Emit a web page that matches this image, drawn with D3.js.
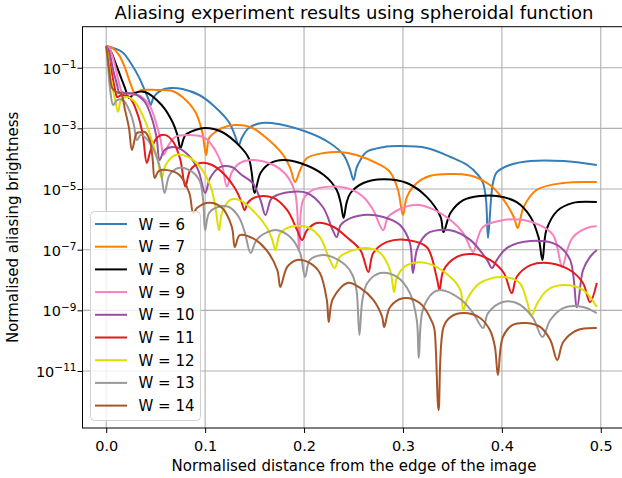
<!DOCTYPE html>
<html>
<head>
<meta charset="utf-8">
<script src="https://cdn.jsdelivr.net/npm/d3@7"></script>
<style>
body { margin: 0; background: #fff; }
svg text { font-family: "DejaVu Sans", sans-serif; fill: #000; }
</style>
</head>
<body>
<div id="chart"></div>
<script>
// values: [distance, brightness]
var w6 = [[0,0.52],[0.016,0.33],[0.026,0.123],[0.033,0.049],[0.038,0.0214],[0.043,8.6e-3],[0.045,5.9e-3],[0.048,0.0108],[0.056,0.0184],[0.065,0.0214],[0.077,0.0199],[0.094,0.0126],[0.110,5.1e-3],[0.124,1.62e-3],[0.130,6.0e-4],[0.134,2.8e-4],[0.137,4.8e-4],[0.144,1.03e-3],[0.157,1.5e-3],[0.167,1.5e-3],[0.203,7.6e-4],[0.226,3.3e-4],[0.240,1.32e-4],[0.246,4.9e-5],[0.250,2.0e-5],[0.253,4.9e-5],[0.257,9.1e-5],[0.263,1.66e-4],[0.280,2.4e-4],[0.297,2.6e-4],[0.324,2.25e-4],[0.348,1.14e-4],[0.365,6.2e-5],[0.376,2.9e-5],[0.381,1.58e-5],[0.384,4.3e-6],[0.386,2.4e-7],[0.389,4.3e-6],[0.391,1.58e-5],[0.395,3.6e-5],[0.408,6.2e-5],[0.429,8.4e-5],[0.462,8.4e-5],[0.496,6.2e-5]];
var w7 = [[0,0.52],[0.006,0.45],[0.013,0.26],[0.019,0.098],[0.025,0.027],[0.029,0.0147],[0.036,0.0184],[0.050,0.0184],[0.067,0.017],[0.077,0.0108],[0.090,3.5e-3],[0.097,7.6e-4],[0.101,1.32e-4],[0.104,4.8e-4],[0.110,7.4e-4],[0.117,1.03e-3],[0.130,1.29e-3],[0.146,1.1e-3],[0.162,4.8e-4],[0.179,1.32e-4],[0.186,4.9e-5],[0.191,1.7e-5],[0.196,4.2e-5],[0.203,1.05e-4],[0.220,1.54e-4],[0.236,1.66e-4],[0.253,1.32e-4],[0.277,6.2e-5],[0.287,3.6e-5],[0.295,9.3e-6],[0.300,1.39e-6],[0.304,5.5e-6],[0.314,1.58e-5],[0.327,2.7e-5],[0.354,3.1e-5],[0.373,2.5e-5],[0.388,1.36e-5],[0.402,4.3e-6],[0.412,1.2e-6],[0.416,5.2e-7],[0.422,2.55e-6],[0.435,9.3e-6],[0.462,1.58e-5],[0.496,1.7e-5]];
var w8 = [[0,0.52],[0.004,0.38],[0.009,0.154],[0.014,0.057],[0.019,0.0214],[0.023,0.01],[0.029,0.0147],[0.039,0.0158],[0.056,5.9e-3],[0.067,1.62e-3],[0.072,6.0e-4],[0.075,2.25e-4],[0.080,6.0e-4],[0.090,8.8e-4],[0.100,1.03e-3],[0.117,7.6e-4],[0.134,2.8e-4],[0.144,1.05e-4],[0.147,3.6e-5],[0.150,7.4e-6],[0.156,3.4e-5],[0.166,7.2e-5],[0.179,9.1e-5],[0.196,7.2e-5],[0.220,2.9e-5],[0.233,9.3e-6],[0.237,3.5e-6],[0.240,1.11e-6],[0.243,3.5e-6],[0.247,7.4e-6],[0.260,1.58e-5],[0.280,2.1e-5],[0.304,1.58e-5],[0.324,5.5e-6],[0.338,1.2e-6],[0.341,3.8e-7],[0.348,1.62e-6],[0.361,4.3e-6],[0.378,5.9e-6],[0.395,5.9e-6],[0.415,3.7e-6],[0.429,1.2e-6],[0.437,2.6e-7],[0.441,4.6e-8],[0.445,4.4e-7],[0.456,1.9e-6],[0.472,3.5e-6],[0.496,3.7e-6]];
var w9 = [[0,0.52],[0.003,0.45],[0.008,0.154],[0.011,0.057],[0.014,0.023],[0.016,0.0158],[0.022,0.0136],[0.034,0.0117],[0.044,5.5e-3],[0.051,1.29e-3],[0.055,4.1e-4],[0.058,1.32e-4],[0.063,2.8e-4],[0.070,5.2e-4],[0.083,6.0e-4],[0.100,4.8e-4],[0.110,1.94e-4],[0.117,6.2e-5],[0.122,1.2e-5],[0.127,3.6e-5],[0.135,7.2e-5],[0.148,9.1e-5],[0.169,6.2e-5],[0.182,2.9e-5],[0.191,7.4e-6],[0.195,9.7e-8],[0.199,4.3e-6],[0.209,9.3e-6],[0.226,1.2e-5],[0.243,1.08e-5],[0.260,5.5e-6],[0.270,2.0e-6],[0.280,4.4e-7],[0.285,1.2e-6],[0.297,2.2e-6],[0.312,3.0e-6],[0.327,2.4e-6],[0.348,9.5e-7],[0.361,3.5e-7],[0.371,8.4e-8],[0.375,2.1e-7],[0.381,5.6e-7],[0.402,9.5e-7],[0.422,9.5e-7],[0.438,6.5e-7],[0.452,3.0e-7],[0.461,2.7e-8],[0.466,9.7e-8],[0.472,2.6e-7],[0.486,5.2e-7],[0.496,5.9e-7]];
var w10 = [[0,0.52],[0.003,0.33],[0.007,0.084],[0.011,0.027],[0.013,0.0158],[0.019,0.0147],[0.029,0.0136],[0.039,7.4e-3],[0.046,2.2e-3],[0.051,4.8e-4],[0.054,9.1e-5],[0.059,1.94e-4],[0.070,2.4e-4],[0.083,1.32e-4],[0.093,4.2e-5],[0.100,7.4e-6],[0.105,2.3e-5],[0.115,5.3e-5],[0.127,5.3e-5],[0.137,2.9e-5],[0.148,1.58e-5],[0.156,4.3e-6],[0.161,1.39e-6],[0.166,4.3e-6],[0.169,5.5e-6],[0.186,8.0e-6],[0.203,7.4e-6],[0.219,2.55e-6],[0.229,4.4e-7],[0.233,2.6e-7],[0.237,6.5e-7],[0.243,9.5e-7],[0.260,1.39e-6],[0.280,1.2e-6],[0.297,6.5e-7],[0.307,1.66e-7],[0.310,1.7e-8],[0.314,9.7e-8],[0.320,2.4e-7],[0.327,3.8e-7],[0.348,4.4e-7],[0.368,2.1e-7],[0.385,4.6e-8],[0.390,2.5e-8],[0.395,4.6e-8],[0.405,1.13e-7],[0.429,1.93e-7],[0.456,1.42e-7],[0.469,4.6e-8],[0.476,1.27e-9],[0.482,2.1e-8],[0.489,5.7e-8],[0.496,9.7e-8]];
var w11 = [[0,0.52],[0.002,0.26],[0.006,0.057],[0.009,0.0184],[0.011,0.0108],[0.016,0.0126],[0.024,0.01],[0.032,2.75e-3],[0.037,6.0e-4],[0.041,7.2e-5],[0.045,1.94e-4],[0.052,5.2e-4],[0.060,6.0e-4],[0.068,3.5e-4],[0.075,9.1e-5],[0.080,1.2e-5],[0.085,4.2e-5],[0.095,7.2e-5],[0.107,6.2e-5],[0.120,2.9e-5],[0.130,1.08e-5],[0.136,4.3e-6],[0.140,2.0e-6],[0.143,3.5e-6],[0.152,5.5e-6],[0.169,5.1e-6],[0.183,2.0e-6],[0.193,4.4e-7],[0.198,2.1e-7],[0.203,4.4e-7],[0.213,7.6e-7],[0.230,5.6e-7],[0.243,2.6e-7],[0.257,9.7e-8],[0.265,1.84e-8],[0.270,7.8e-8],[0.284,1.8e-7],[0.304,2.1e-7],[0.324,1.22e-7],[0.334,1.26e-8],[0.337,4.7e-9],[0.341,2.1e-8],[0.354,5.7e-8],[0.371,7.2e-8],[0.388,4.6e-8],[0.402,1.7e-8],[0.410,3.7e-9],[0.415,1.26e-8],[0.429,3.1e-8],[0.449,3.6e-8],[0.469,2.1e-8],[0.482,8.0e-9],[0.489,1.88e-9],[0.496,8.0e-9]];
var w12 = [[0,0.52],[0.002,0.21],[0.005,0.039],[0.009,8.6e-3],[0.012,3.5e-3],[0.015,8.6e-3],[0.021,0.0108],[0.029,7.4e-3],[0.039,1.88e-3],[0.046,4.1e-4],[0.052,9.1e-5],[0.056,2.3e-5],[0.060,6.2e-5],[0.070,1.32e-4],[0.083,1.14e-4],[0.095,5.3e-5],[0.105,1.36e-5],[0.110,3.0e-6],[0.114,4.4e-7],[0.117,1.62e-6],[0.125,4.3e-6],[0.135,4.3e-6],[0.148,2.0e-6],[0.162,5.6e-7],[0.168,2.1e-7],[0.171,9.7e-8],[0.176,3.5e-7],[0.186,5.6e-7],[0.203,5.6e-7],[0.216,2.6e-7],[0.226,4.6e-8],[0.231,2.5e-8],[0.236,5.7e-8],[0.250,9.7e-8],[0.264,1.13e-7],[0.277,7.8e-8],[0.287,2.1e-8],[0.291,4.0e-9],[0.294,1.26e-8],[0.304,3.1e-8],[0.324,3.6e-8],[0.348,1.26e-8],[0.358,4.7e-9],[0.361,1.02e-9],[0.365,2.36e-9],[0.378,8.0e-9],[0.401,1.26e-8],[0.418,8.0e-9],[0.425,2.2e-9],[0.430,7.0e-10],[0.436,1.74e-9],[0.446,4.7e-9],[0.462,6.8e-9],[0.482,4.7e-9],[0.496,1.29e-9]];
var w13 = [[0,0.52],[0.002,0.098],[0.004,0.0184],[0.007,5.9e-3],[0.011,8.6e-3],[0.017,8.6e-3],[0.024,3.5e-3],[0.028,1.29e-3],[0.031,4.1e-4],[0.035,6.0e-4],[0.042,4.1e-4],[0.049,1.66e-4],[0.055,4.2e-5],[0.059,7.4e-6],[0.064,2.9e-5],[0.073,4.9e-5],[0.084,4.2e-5],[0.094,2.0e-5],[0.098,4.3e-6],[0.100,4.4e-7],[0.104,1.62e-6],[0.113,2.55e-6],[0.124,2.55e-6],[0.134,1.2e-6],[0.140,3.8e-7],[0.146,7.8e-8],[0.152,2.1e-7],[0.163,3.8e-7],[0.173,4.4e-7],[0.186,2.6e-7],[0.196,7.8e-8],[0.201,1.26e-8],[0.206,4.6e-8],[0.219,6.7e-8],[0.229,5.7e-8],[0.242,3.1e-8],[0.249,1.46e-8],[0.253,4.7e-9],[0.256,1.53e-10],[0.259,2.2e-9],[0.264,8.0e-9],[0.277,1.7e-8],[0.294,1.26e-8],[0.307,3.7e-9],[0.314,4.8e-10],[0.316,2.7e-11],[0.320,1.02e-9],[0.330,3.7e-9],[0.338,4.7e-9],[0.358,2.36e-9],[0.371,8.1e-10],[0.381,2.6e-10],[0.386,8.1e-10],[0.401,1.88e-9],[0.415,1.74e-9],[0.431,6.0e-10],[0.441,1.32e-10],[0.449,4.8e-10],[0.462,1.19e-9],[0.482,1.29e-9],[0.496,8.1e-10]];
var w14 = [[0,0.52],[0.003,0.084],[0.006,0.0214],[0.010,0.0158],[0.015,0.0136],[0.019,4.0e-3],[0.023,1.03e-3],[0.026,1.94e-4],[0.031,7.0e-4],[0.035,7.4e-4],[0.039,7.6e-4],[0.044,4.1e-4],[0.047,9.1e-5],[0.049,2.3e-5],[0.053,3.9e-5],[0.062,4.2e-5],[0.074,2.9e-5],[0.084,7.4e-6],[0.088,1.62e-6],[0.092,2.4e-6],[0.104,3.5e-6],[0.117,2.4e-6],[0.127,5.6e-7],[0.130,1.22e-7],[0.135,3.0e-7],[0.148,2.4e-7],[0.162,9.7e-8],[0.173,2.1e-8],[0.176,5.9e-9],[0.183,2.7e-8],[0.193,4.6e-8],[0.206,3.6e-8],[0.216,1.7e-8],[0.223,2.2e-9],[0.225,4.1e-10],[0.229,2.36e-9],[0.244,8.0e-9],[0.257,5.4e-9],[0.270,2.2e-9],[0.279,6.0e-10],[0.281,2.8e-10],[0.287,1.29e-9],[0.300,2.5e-9],[0.317,1.74e-9],[0.330,3.8e-10],[0.332,2.2e-10],[0.336,5.1e-13],[0.341,2.8e-10],[0.348,6.0e-10],[0.361,8.1e-10],[0.378,5.6e-10],[0.388,2.2e-10],[0.393,6.2e-11],[0.396,7.3e-12],[0.401,1.32e-10],[0.411,3.3e-10],[0.425,3.8e-10],[0.439,2.8e-10],[0.449,1.05e-10],[0.456,2.3e-11],[0.462,9.0e-11],[0.476,2.2e-10],[0.496,2.6e-10]];

var widths = [6, 7, 8, 9, 10, 11, 12, 13, 14];
var seriesData = [w6, w7, w8, w9, w10, w11, w12, w13, w14];
var colors = ["#377eb8", "#ff7f00", "#000000", "#f781bf", "#984ea3", "#e41a1c", "#dede00", "#999999", "#a65628"];
var xTicks = [0, 0.1, 0.2, 0.3, 0.4, 0.5];
var yTicks = [1e-1, 1e-3, 1e-5, 1e-7, 1e-9, 1e-11];

var W = 622, H = 478;
var plot = {left: 82.5, right: 625.5, top: 26.7, bottom: 428};

var svg = d3.select("#chart")
  .append("svg")
    .attr("width", W)
    .attr("height", H);

var x = d3.scaleLinear()
  .domain([-0.024, 0.525])
  .range([plot.left, plot.right]);

var y = d3.scaleLog()
  .domain([1.32e-13, 2.25])
  .range([plot.bottom, plot.top]);

// grid
svg.append("g")
  .selectAll("line")
  .data(xTicks)
  .enter().append("line")
    .attr("x1", function(d) { return x(d); })
    .attr("x2", function(d) { return x(d); })
    .attr("y1", plot.top)
    .attr("y2", plot.bottom)
    .attr("stroke", "#b0b0b0")
    .attr("stroke-width", 1.1);

svg.append("g")
  .selectAll("line")
  .data(yTicks)
  .enter().append("line")
    .attr("x1", plot.left)
    .attr("x2", plot.right)
    .attr("y1", function(d) { return y(d); })
    .attr("y2", function(d) { return y(d); })
    .attr("stroke", "#b0b0b0")
    .attr("stroke-width", 1.1);

svg.append("clipPath")
    .attr("id", "clip")
  .append("rect")
    .attr("x", plot.left)
    .attr("y", plot.top)
    .attr("width", plot.right - plot.left)
    .attr("height", plot.bottom - plot.top);

var line = d3.line()
  .x(function(d) { return x(d[0]); })
  .y(function(d) { return y(d[1]); })
  .curve(d3.curveCatmullRom.alpha(0.5));

svg.append("g")
    .attr("clip-path", "url(#clip)")
  .selectAll("path")
  .data(seriesData)
  .enter().append("path")
    .attr("d", line)
    .attr("fill", "none")
    .attr("stroke", function(d, i) { return colors[i]; })
    .attr("stroke-width", 2)
    .attr("stroke-linejoin", "round");

// axes
var xAxis = svg.append("g")
  .attr("transform", "translate(0," + plot.bottom + ")")
  .call(d3.axisBottom(x).tickValues(xTicks).tickFormat(d3.format(".1f")).tickSize(5).tickPadding(8));

var yAxis = svg.append("g")
  .attr("transform", "translate(" + plot.left + ",0)")
  .call(d3.axisLeft(y).tickValues(yTicks).tickFormat("").tickSize(5));

[xAxis, yAxis].forEach(function(g) {
  g.select(".domain").remove();
  g.selectAll(".tick line").attr("stroke", "#000").attr("stroke-width", 1);
});
xAxis.selectAll(".tick text")
  .attr("font-size", "14.5px")
  .attr("font-family", "DejaVu Sans")
  .attr("fill", "#000");

yAxis.selectAll(".tick").each(function(d) {
  var t = d3.select(this).append("text")
    .attr("x", -6)
    .attr("y", 5.5)
    .attr("text-anchor", "end")
    .attr("font-size", "14.5px")
    .attr("fill", "#000");
  t.append("tspan").text("10");
  t.append("tspan")
    .attr("dy", -5.5)
    .attr("font-size", "10.5px")
    .text("\u2212" + (-Math.round(Math.log10(d))));
});

svg.append("rect")
  .attr("x", plot.left)
  .attr("y", plot.top)
  .attr("width", plot.right - plot.left)
  .attr("height", plot.bottom - plot.top)
  .attr("fill", "none")
  .attr("stroke", "#000")
  .attr("stroke-width", 1);

// labels
svg.append("text")
  .attr("x", (plot.left + plot.right) / 2)
  .attr("y", 19)
  .attr("text-anchor", "middle")
  .attr("font-size", "18px")
  .text("Aliasing experiment results using spheroidal function");

svg.append("text")
  .attr("x", (plot.left + plot.right) / 2)
  .attr("y", 471)
  .attr("text-anchor", "middle")
  .attr("font-size", "15px")
  .text("Normalised distance from the edge of the image");

svg.append("text")
  .attr("transform", "translate(18," + (plot.top + plot.bottom) / 2 + ") rotate(-90)")
  .attr("text-anchor", "middle")
  .attr("font-size", "15px")
  .text("Normalised aliasing brightness");

// legend
var legend = svg.append("g");
legend.append("rect")
  .attr("x", 90.5)
  .attr("y", 211.5)
  .attr("width", 110)
  .attr("height", 209)
  .attr("rx", 4)
  .attr("fill", "#fff")
  .attr("fill-opacity", 0.8)
  .attr("stroke", "#d0d0d0");

var items = legend.selectAll("g.item")
  .data(widths)
  .enter().append("g")
    .attr("class", "item")
    .attr("transform", function(d, i) { return "translate(0," + (224 + i * 22.7) + ")"; });

items.append("line")
  .attr("x1", 95)
  .attr("x2", 127)
  .attr("stroke", function(d, i) { return colors[i]; })
  .attr("stroke-width", 2);

items.append("text")
  .attr("x", 138.5)
  .attr("y", 5.5)
  .attr("font-size", "15px")
  .text(function(d) { return "W = " + d; });
</script>
</body>
</html>
